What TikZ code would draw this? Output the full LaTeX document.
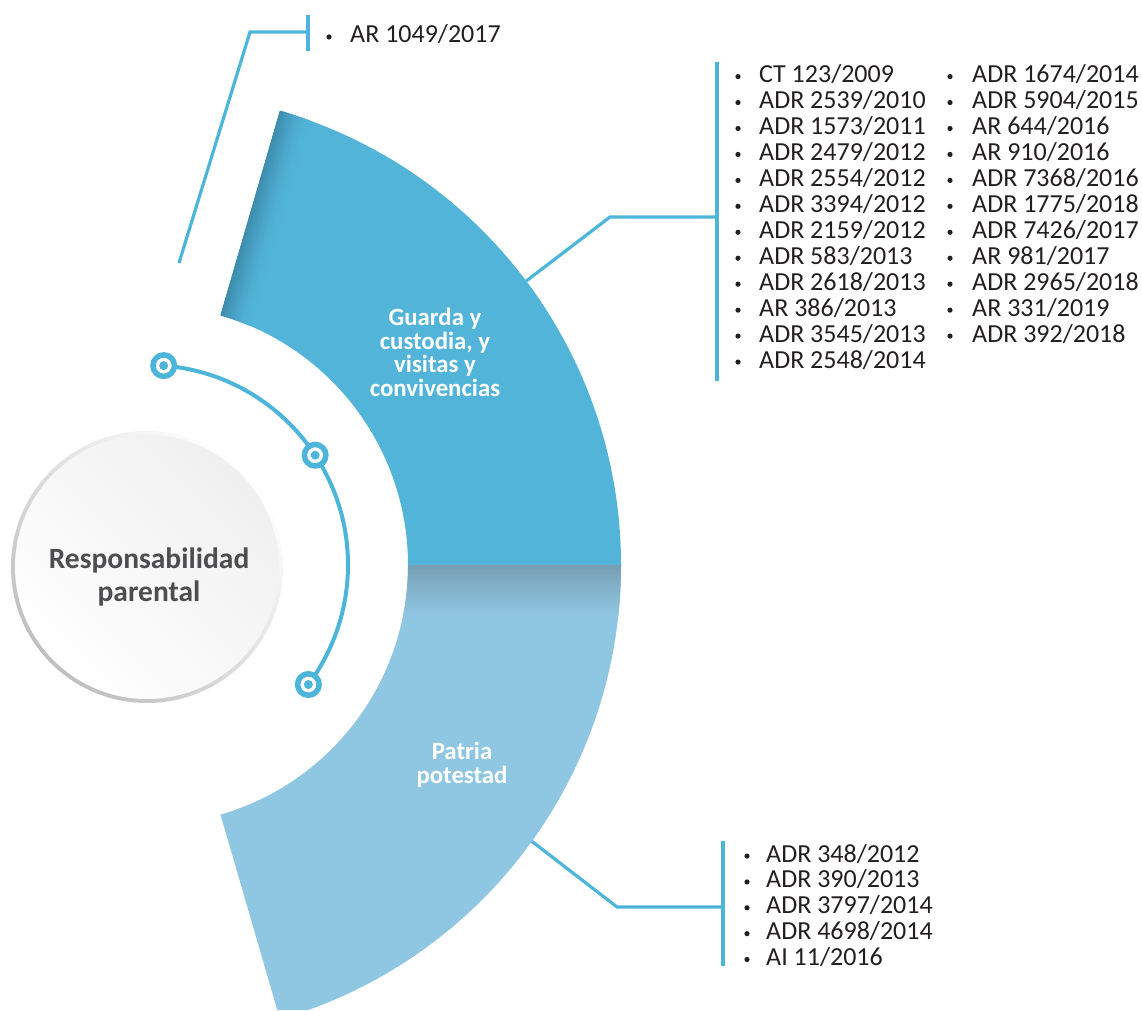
\documentclass[tikz,border=0pt]{standalone}
\usepackage{fontspec}
\setmainfont{Carlito}
\definecolor{topblue}{HTML}{52B4D9}
\definecolor{topdark}{HTML}{3A88A8}
\definecolor{botblue}{HTML}{8FC6E1}
\definecolor{botdark}{HTML}{779FB5}
\definecolor{lineblue}{HTML}{4DB4DA}
\definecolor{textdark}{HTML}{231F20}
\definecolor{circtext}{HTML}{4D4D4F}
\begin{document}
\begin{tikzpicture}[x=1pt,y=1pt,
  conn/.style={draw=lineblue,line width=3.2pt,line join=miter},
  bar/.style={draw=lineblue,line width=3.8pt},
  ringline/.style={draw=lineblue,line width=4pt},
  ringdot/.style={circle,fill=white,draw=lineblue,line width=5.5pt,minimum size=21.5pt,inner sep=0pt,
    path picture={\fill[lineblue] (path picture bounding box.center) circle (4.5);}},
  item/.style={text=textdark,font=\fontsize{26}{26}\selectfont,inner sep=0pt,anchor=base west},
  bul/.style={fill=textdark},
  segtext/.style={text=white,font=\bfseries\fontsize{24.8}{23.5}\selectfont,align=center,inner sep=0pt},
  centertext/.style={text=circtext,font=\bfseries\fontsize{29.5}{33}\selectfont,align=center,inner sep=0pt}]
\clip (0,0) rectangle (1142,1010);
\coordinate (O) at (148,445);
% top segment
\begin{scope}
\clip ([shift={(O)}]0:260) -- ([shift={(O)}]0:473) arc[start angle=0,end angle=73.8,radius=473]
  -- ([shift={(O)}]73.8:260) arc[start angle=73.8,end angle=0,radius=260] -- cycle;
\fill[topblue] (0,0) rectangle (1142,1010);
\begin{scope}[shift={([shift={(O)}]73.8:260)},rotate=-16.2]
\foreach \i in {0,...,15}{
  \pgfmathsetmacro{\pct}{100*(1-\i/16)^1.4}
  \fill[topdark!\pct!topblue] (\i*2-3,-60) rectangle (\i*2+2.4,520);
}
\end{scope}
\end{scope}
% bottom segment
\begin{scope}
\clip ([shift={(O)}]0:260) -- ([shift={(O)}]0:473) arc[start angle=0,end angle=-73.8,radius=473]
  -- ([shift={(O)}]-73.8:260) arc[start angle=-73.8,end angle=0,radius=260] -- cycle;
\fill[botblue] (0,0) rectangle (1142,1010);
\shade[top color=botdark,bottom color=botblue] (300,395) rectangle (700,445);
\end{scope}
% central circle
\shade[top color=white,bottom color=black!25,shading angle=-45] (147,443) circle (136);
\shade[top color=black!6,bottom color=white,shading angle=-45] (147,443) circle (132);
\node[centertext] (center) at (149,433) {Responsabilidad\\parental};
% ring with dots
\draw[ringline] ([shift={(O)}]85.5:200) arc[start angle=85.5,end angle=-36.7,radius=200];
\node[ringdot] (d1) at ([shift={(O)}]85.5:200) {};
\node[ringdot] (d2) at ([shift={(O)}]33.3:200) {};
\node[ringdot] (d3) at ([shift={(O)}]-36.7:200) {};
% segment labels
\node[segtext] (guarda) at (435,657.5) {Guarda y\\custodia, y\\visitas y\\convivencias};
\node[segtext] (patria) at (462,245.5) {Patria\\potestad};
% connector top-left
\coordinate (s1) at (179,747);
\coordinate (k1) at (250,978);
\coordinate (e1) at (308,978);
\coordinate (b1t) at (308,995);
\coordinate (b1b) at (308,959);
\draw[conn] (s1) -- (k1) -- (e1);
\draw[bar] (b1t) -- (b1b);
\node[item] (ar1049) at (350,967) {AR 1049/2017};
\fill[bul] (329,973) circle (2.6);
% connector top segment
\coordinate (s2) at ([shift={(O)}]36.9:473);
\coordinate (k2) at (610,793);
\coordinate (e2) at (717,793);
\coordinate (b2t) at (717,948);
\coordinate (b2b) at (717,629);
\draw[conn] (s2) -- (k2) -- (e2);
\draw[bar] (b2t) -- (b2b);
\foreach \t [count=\i from 0] in {CT 123/2009,ADR 2539/2010,ADR 1573/2011,ADR 2479/2012,ADR 2554/2012,ADR 3394/2012,ADR 2159/2012,ADR 583/2013,ADR 2618/2013,AR 386/2013,ADR 3545/2013,ADR 2548/2014}{
  \node[item] (c1-\i) at (759,927.4-25.95*\i) {\t};
  \fill[bul] (738,933.4-25.95*\i) circle (2.6);
}
\foreach \t [count=\i from 0] in {ADR 1674/2014,ADR 5904/2015,AR 644/2016,AR 910/2016,ADR 7368/2016,ADR 1775/2018,ADR 7426/2017,AR 981/2017,ADR 2965/2018,AR 331/2019,ADR 392/2018}{
  \node[item] (c2-\i) at (972,927.4-25.95*\i) {\t};
  \fill[bul] (950,933.4-25.95*\i) circle (2.6);
}
% connector bottom segment
\coordinate (s3) at ([shift={(O)}]-35.75:473);
\coordinate (k3) at (617,103);
\coordinate (e3) at (723,103);
\coordinate (b3t) at (723,169);
\coordinate (b3b) at (723,44);
\draw[conn] (s3) -- (k3) -- (e3);
\draw[bar] (b3t) -- (b3b);
\foreach \t [count=\i from 0] in {ADR 348/2012,ADR 390/2013,ADR 3797/2014,ADR 4698/2014,AI 11/2016}{
  \node[item] (c3-\i) at (766,147.9-25.85*\i) {\t};
  \fill[bul] (747,153.9-25.85*\i) circle (2.6);
}
\end{tikzpicture}
\end{document}
